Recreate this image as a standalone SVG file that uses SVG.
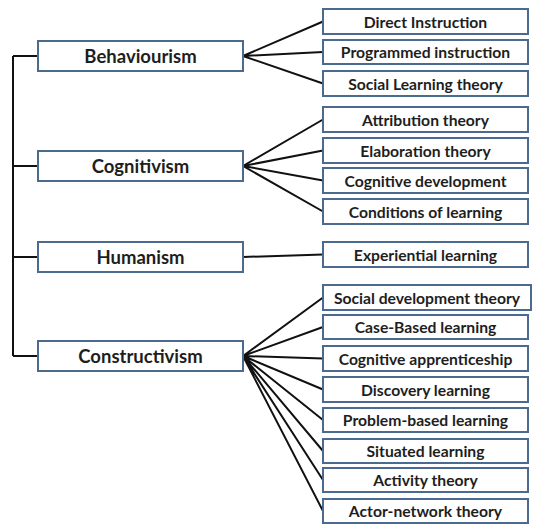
<svg xmlns="http://www.w3.org/2000/svg" width="533" height="525" viewBox="0 0 533 525">
<style>
.box{fill:#fff;stroke:#4a6a90;stroke-width:2}
.main{font-family:Lato,"Liberation Sans",sans-serif;font-weight:700;font-size:18.5px;fill:#1e1e1e;text-anchor:middle;dominant-baseline:central}
.sub{font-family:Lato,"Liberation Sans",sans-serif;font-weight:700;font-size:15.7px;fill:#1e1e1e;text-anchor:middle;dominant-baseline:central}
.ln{stroke:#111;stroke-width:2;fill:none}
</style>
<rect width="533" height="525" fill="#fff"/>
<g id="connectors">
<path class="ln" d="M13,56 V356 M13,56 H38 M13,166 H38 M13,257 H38 M13,356 H38"/>
<path class="ln" d="M243,56 L323,21.5 M243,56 L323,52 M243,56 L323,83.5"/>
<path class="ln" d="M243,166 L323,119.5 M243,166 L323,150.5 M243,166 L323,180.5 M243,166 L323,211.5"/>
<path class="ln" d="M243,257 L323,254.5"/>
<path class="ln" d="M243,356 L323,297.5 M243,356 L323,327 M243,356 L323,358.5 M243,356 L323,389.5 M243,356 L323,420 M243,356 L323,451 M243,356 L323,480 M243,356 L323,511"/>
</g>
<g id="behaviourism"><rect class="box" x="38" y="41" width="205" height="30"/><text class="main" x="140.5" y="56">Behaviourism</text></g>
<g id="cognitivism"><rect class="box" x="38" y="151" width="205" height="30"/><text class="main" x="140.5" y="166">Cognitivism</text></g>
<g id="humanism"><rect class="box" x="38" y="242" width="205" height="30"/><text class="main" x="140.5" y="257">Humanism</text></g>
<g id="constructivism"><rect class="box" x="38" y="341" width="205" height="30"/><text class="main" x="140.5" y="356">Constructivism</text></g>
<g id="direct"><rect class="box" x="323" y="9" width="205" height="25"/><text class="sub" x="425.5" y="21.5">Direct Instruction</text></g>
<g id="programmed"><rect class="box" x="323" y="40" width="205" height="24"/><text class="sub" x="425.5" y="52">Programmed instruction</text></g>
<g id="social-learning"><rect class="box" x="323" y="71" width="205" height="25"/><text class="sub" x="425.5" y="83.5">Social Learning theory</text></g>
<g id="attribution"><rect class="box" x="323" y="107" width="205" height="25"/><text class="sub" x="425.5" y="119.5">Attribution theory</text></g>
<g id="elaboration"><rect class="box" x="323" y="138" width="205" height="25"/><text class="sub" x="425.5" y="150.5">Elaboration theory</text></g>
<g id="cognitive-dev"><rect class="box" x="323" y="168" width="205" height="25"/><text class="sub" x="425.5" y="180.5">Cognitive development</text></g>
<g id="conditions"><rect class="box" x="323" y="199" width="205" height="25"/><text class="sub" x="425.5" y="211.5">Conditions of learning</text></g>
<g id="experiential"><rect class="box" x="323" y="242" width="205" height="25"/><text class="sub" x="425.5" y="254.5">Experiential learning</text></g>
<g id="social-dev"><rect class="box" x="323" y="285" width="208" height="25"/><text class="sub" x="427" y="297.5">Social development theory</text></g>
<g id="case-based"><rect class="box" x="323" y="315" width="205" height="24"/><text class="sub" x="425.5" y="327">Case-Based learning</text></g>
<g id="apprenticeship"><rect class="box" x="323" y="346" width="205" height="25"/><text class="sub" x="425.5" y="358.5">Cognitive apprenticeship</text></g>
<g id="discovery"><rect class="box" x="323" y="377" width="205" height="25"/><text class="sub" x="425.5" y="389.5">Discovery learning</text></g>
<g id="problem-based"><rect class="box" x="323" y="408" width="205" height="24"/><text class="sub" x="425.5" y="420">Problem-based learning</text></g>
<g id="situated"><rect class="box" x="323" y="439" width="205" height="24"/><text class="sub" x="425.5" y="451">Situated learning</text></g>
<g id="activity"><rect class="box" x="323" y="468" width="205" height="24"/><text class="sub" x="425.5" y="480">Activity theory</text></g>
<g id="actor-network"><rect class="box" x="323" y="499" width="205" height="24"/><text class="sub" x="425.5" y="511">Actor-network theory</text></g>
</svg>
